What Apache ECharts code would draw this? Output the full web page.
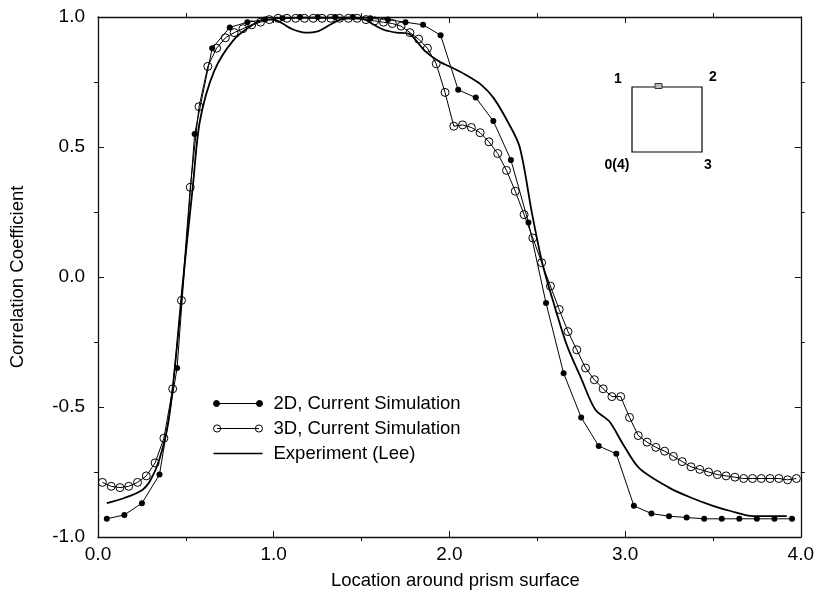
<!DOCTYPE html>
<html>
<head>
<meta charset="utf-8">
<script src="https://cdn.jsdelivr.net/npm/echarts@6/dist/echarts.min.js"></script>
<style>
html,body{margin:0;padding:0;background:#fff;}
#chart{width:817px;height:595px;}
</style>
</head>
<body>
<div id="chart"></div>
<script>
// ---- Data ----
var xTicks = [0, 1, 2, 3, 4];
var yTicks = [-1, -0.5, 0, 0.5, 1];

var x2D = [0.05,0.15,0.25,0.35,0.45,0.55,0.65,0.75,0.85,0.95,1.05,1.15,1.25,1.35,1.45,1.55,1.65,1.75,1.85,1.95,
           2.05,2.15,2.25,2.35,2.45,2.55,2.65,2.75,2.85,2.95,3.05,3.15,3.25,3.35,3.45,3.55,3.65,3.75,3.85,3.95];
var y2D = [-0.93,-0.915,-0.87,-0.76,-0.35,0.55,0.88,0.96,0.98,0.99,0.995,1.0,1.0,1.0,1.0,0.995,0.99,0.98,0.97,0.93,
           0.72,0.69,0.60,0.45,0.21,-0.10,-0.37,-0.54,-0.65,-0.68,-0.88,-0.91,-0.92,-0.925,-0.93,-0.93,-0.93,-0.93,-0.93,-0.93];

var x3D = [0.025,0.075,0.125,0.175,0.225,0.275,0.325,0.375,0.425,0.475,0.525,0.575,0.625,0.675,0.725,0.775,0.825,0.875,0.925,0.975,
           1.025,1.075,1.125,1.175,1.225,1.275,1.325,1.375,1.425,1.475,1.525,1.575,1.625,1.675,1.725,1.775,1.825,1.875,1.925,1.975,
           2.025,2.075,2.125,2.175,2.225,2.275,2.325,2.375,2.425,2.475,2.525,2.575,2.625,2.675,2.725,2.775,2.825,2.875,2.925,2.975,
           3.025,3.075,3.125,3.175,3.225,3.275,3.325,3.375,3.425,3.475,3.525,3.575,3.625,3.675,3.725,3.775,3.825,3.875,3.925,3.975];
var y3D = [-0.79,-0.805,-0.81,-0.805,-0.79,-0.765,-0.715,-0.62,-0.43,-0.09,0.345,0.655,0.81,0.88,0.92,0.94,0.955,0.97,0.98,0.99,
           0.995,0.995,0.995,0.995,0.995,0.995,0.995,0.995,0.995,0.995,0.99,0.985,0.98,0.975,0.965,0.94,0.915,0.88,0.82,0.71,
           0.58,0.585,0.575,0.555,0.52,0.475,0.41,0.33,0.24,0.15,0.055,-0.035,-0.125,-0.21,-0.28,-0.35,-0.395,-0.43,-0.46,-0.46,
           -0.54,-0.61,-0.635,-0.655,-0.67,-0.69,-0.71,-0.73,-0.74,-0.75,-0.76,-0.765,-0.77,-0.775,-0.775,-0.775,-0.775,-0.775,-0.78,-0.775];

var xExp = [0.05,0.15,0.25,0.30,0.35,0.40,0.44,0.48,0.54,0.58,0.66,0.77,0.88,0.95,1.00,1.05,1.10,1.18,1.25,1.32,1.38,1.45,1.52,1.57,1.63,1.70,1.77,
            1.86,1.94,2.03,2.10,2.18,2.25,2.33,2.40,2.47,2.53,2.60,2.67,2.75,2.83,2.91,2.99,3.08,3.25,3.38,3.50,3.60,3.73,3.92];
var yExp = [-0.87,-0.85,-0.82,-0.78,-0.70,-0.56,-0.33,-0.04,0.35,0.60,0.79,0.91,0.97,0.99,0.99,0.975,0.955,0.94,0.945,0.97,0.99,0.995,0.99,0.97,0.95,0.94,0.935,
            0.87,0.83,0.80,0.775,0.74,0.69,0.60,0.50,0.245,0.05,-0.115,-0.265,-0.39,-0.51,-0.555,-0.645,-0.735,-0.81,-0.85,-0.88,-0.90,-0.92,-0.92];

var seriesNames = ['2D, Current Simulation', '3D, Current Simulation', 'Experiment (Lee)'];
var insetLabels = ['1', '2', '0(4)', '3'];

function zip(xs, ys) { return xs.map(function (x, i) { return [x, ys[i]]; }); }

var FONT = 'Liberation Sans, Arial, Helvetica, sans-serif';
var chart = echarts.init(document.getElementById('chart'), null, {renderer: 'canvas'});

var axisLine = {show: true, onZero: false, lineStyle: {color: '#111', width: 1.3}};
var majorTick = {show: true, inside: true, length: 6, lineStyle: {color: '#111', width: 1}};
var minorTick = {show: true, splitNumber: 2, length: -4, lineStyle: {color: '#111', width: 1}};

var option = {
  backgroundColor: '#fff',
  animation: false,
  grid: {left: 98, right: 14, top: 17, bottom: 55, containLabel: false},
  xAxis: [{
    type: 'value', min: xTicks[0], max: xTicks[xTicks.length - 1], interval: 1,
    position: 'bottom',
    axisLine: axisLine, axisTick: majorTick, minorTick: minorTick,
    splitLine: {show: false},
    axisLabel: {color: '#000', fontFamily: FONT, fontSize: 19, margin: 8,
      formatter: function (v) { return v.toFixed(1); }},
    name: 'Location around prism surface', nameLocation: 'middle', nameGap: 34,
    nameTextStyle: {color: '#000', fontFamily: FONT, fontSize: 18.5, padding: [0, 0, 0, 12]}
  }, {
    type: 'value', min: xTicks[0], max: xTicks[xTicks.length - 1], interval: 1,
    position: 'top',
    axisLine: axisLine, axisTick: majorTick, minorTick: minorTick,
    splitLine: {show: false}, axisLabel: {show: false}
  }],
  yAxis: [{
    type: 'value', min: yTicks[0], max: yTicks[yTicks.length - 1], interval: 0.5,
    position: 'left',
    axisLine: axisLine, axisTick: majorTick, minorTick: minorTick,
    splitLine: {show: false},
    axisLabel: {color: '#000', fontFamily: FONT, fontSize: 19, margin: 13,
      formatter: function (v) { return v.toFixed(1); }},
    name: 'Correlation Coefficient', nameLocation: 'middle', nameGap: 71, nameRotate: 90,
    nameTextStyle: {color: '#000', fontFamily: FONT, fontSize: 18.5}
  }, {
    type: 'value', min: yTicks[0], max: yTicks[yTicks.length - 1], interval: 0.5,
    position: 'right',
    axisLine: axisLine, axisTick: majorTick, minorTick: minorTick,
    splitLine: {show: false}, axisLabel: {show: false}
  }],
  legend: {
    orient: 'vertical', left: 208, top: 389,
    itemWidth: 49, itemHeight: 8, itemGap: 6,
    textStyle: {color: '#000', fontFamily: FONT, fontSize: 18.5, padding: [0, 0, 0, 6]},
    data: [
      {name: seriesNames[0],
       icon: 'path://M0,4a3,3 0 1,0 6,0a3,3 0 1,0 -6,0Z M43,4a3,3 0 1,0 6,0a3,3 0 1,0 -6,0Z M3,4L46,4',
       itemStyle: {color: '#000', borderColor: '#000', borderWidth: 1}},
      {name: seriesNames[1],
       icon: 'path://M0.5,4a3.5,3.5 0 1,0 7,0a3.5,3.5 0 1,0 -7,0Z M41.5,4a3.5,3.5 0 1,0 7,0a3.5,3.5 0 1,0 -7,0Z M4,4L45,4',
       itemStyle: {color: 'rgba(0,0,0,0)', borderColor: '#000', borderWidth: 1}},
      {name: seriesNames[2],
       icon: 'path://M0,3.2L49,3.2L49,4.8L0,4.8Z',
       itemStyle: {color: '#000', borderWidth: 0}}
    ]
  },
  series: [{
    name: seriesNames[0], type: 'line', xAxisIndex: 0, yAxisIndex: 0,
    data: zip(x2D, y2D),
    symbol: 'circle', symbolSize: 6,
    lineStyle: {color: '#000', width: 1},
    itemStyle: {color: '#000'}, z: 3
  }, {
    name: seriesNames[1], type: 'line', xAxisIndex: 0, yAxisIndex: 0,
    data: zip(x3D, y3D),
    symbol: 'circle', symbolSize: 8,
    lineStyle: {color: '#000', width: 1},
    itemStyle: {color: 'rgba(0,0,0,0)', borderColor: '#000', borderWidth: 1}, z: 2
  }, {
    name: seriesNames[2], type: 'line', xAxisIndex: 0, yAxisIndex: 0,
    data: zip(xExp, yExp),
    symbol: 'none', smooth: 0.3,
    lineStyle: {color: '#000', width: 1.8},
    itemStyle: {color: '#000'}, z: 1
  }],
  graphic: [
    {type: 'rect', shape: {x: 632, y: 87, width: 70, height: 65},
     style: {fill: 'none', stroke: '#000', lineWidth: 1.2}},
    {type: 'rect', shape: {x: 655, y: 83.5, width: 7, height: 5},
     style: {fill: '#bbb', stroke: '#333', lineWidth: 1}},
    {type: 'text', x: 618, y: 79, style: {text: insetLabels[0], fill: '#000', font: 'bold 14px ' + FONT, textAlign: 'center', textVerticalAlign: 'middle'}},
    {type: 'text', x: 713, y: 77, style: {text: insetLabels[1], fill: '#000', font: 'bold 14px ' + FONT, textAlign: 'center', textVerticalAlign: 'middle'}},
    {type: 'text', x: 617, y: 165, style: {text: insetLabels[2], fill: '#000', font: 'bold 14px ' + FONT, textAlign: 'center', textVerticalAlign: 'middle'}},
    {type: 'text', x: 708, y: 165, style: {text: insetLabels[3], fill: '#000', font: 'bold 14px ' + FONT, textAlign: 'center', textVerticalAlign: 'middle'}}
  ]
};
chart.setOption(option);
</script>
</body>
</html>
